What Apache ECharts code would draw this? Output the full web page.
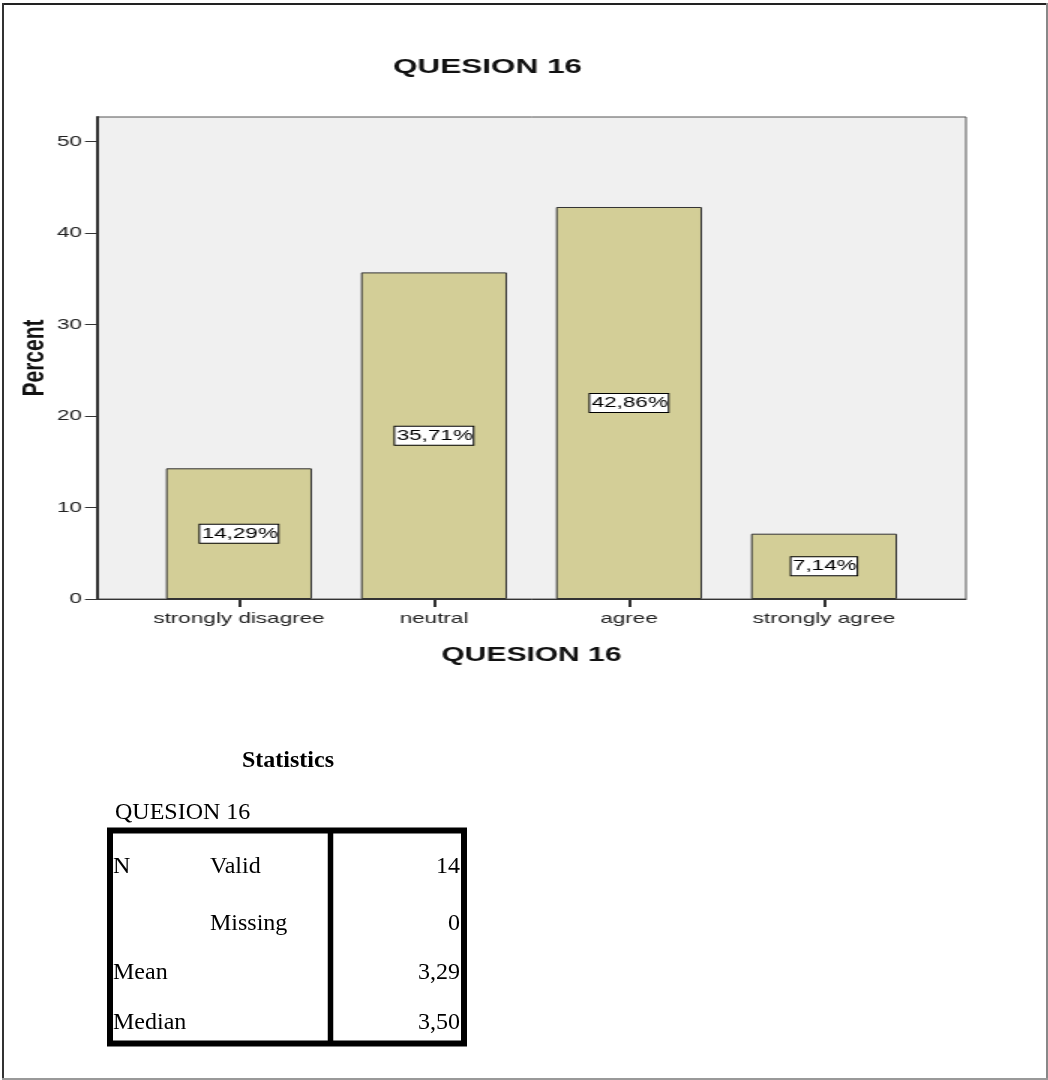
<!DOCTYPE html>
<html><head><meta charset="utf-8">
<script src="https://cdn.jsdelivr.net/npm/echarts@6/dist/echarts.min.js"></script>
<style>
html,body{margin:0;padding:0;background:#fff;}
#page{position:relative;width:1048px;height:1080px;overflow:hidden;background:#fff;}
#base{position:absolute;left:0;top:0;width:1048px;height:1080px;}
#chart{position:absolute;left:0;top:0;width:700px;height:700px;transform:scaleX(1.5);transform-origin:0 0;}
</style></head>
<body><div id="page"><div id="base"></div><div id="chart"></div></div>
<script>
// ---- data ----
const categories = ['strongly disagree', 'neutral', 'agree', 'strongly agree'];
const percents = [14.29, 35.71, 42.86, 7.14];
const percentLabels = ['14,29%', '35,71%', '42,86%', '7,14%'];
const yTicks = [0, 10, 20, 30, 40, 50];
const chartTitle = 'QUESION 16';
const xAxisTitle = 'QUESION 16';
const yAxisTitle = 'Percent';
const statsTitle = 'Statistics';
const statsVariable = 'QUESION 16';
const statGroup = ['N', '', 'Mean', 'Median'];
const statSub = ['Valid', 'Missing', '', ''];
const statValue = ['14', '0', '3,29', '3,50'];

const SANS = '"Liberation Sans", Arial, Helvetica, sans-serif';
const SERIF = '"Liberation Serif", "Times New Roman", serif';
const catIdx = categories.map((c, i) => i);

// ---- chart (stretched horizontally like the original export) ----
const chart = echarts.init(document.getElementById('chart'), null, {renderer: 'canvas'});
chart.setOption({
  animation: false,
  backgroundColor: 'transparent',
  title: {
    text: chartTitle, left: 320, top: 52, textAlign: 'center',
    textStyle: {fontFamily: SANS, fontSize: 21, fontWeight: 'bold', color: '#111'}
  },
  grid: {
    left: 64.67, right: 56, top: 117, bottom: 101,
    containLabel: false, outerBoundsMode: 'none',
    show: true, backgroundColor: '#f0f0f0', borderColor: '#555', borderWidth: 1
  },
  xAxis: {
    type: 'value', min: -0.728, max: 3.728,
    name: xAxisTitle, nameLocation: 'middle', nameGap: 46, nameMoveOverlap: false,
    nameTextStyle: {fontFamily: SANS, fontSize: 20, fontWeight: 'bold', color: '#111'},
    axisLine: {show: true, onZero: false, lineStyle: {color: '#333', width: 1}},
    axisTick: {show: true, customValues: catIdx, length: 8, lineStyle: {color: '#333', width: 2}},
    axisLabel: {customValues: catIdx, formatter: v => categories[Math.round(v)] || '',
      fontFamily: SANS, fontSize: 15, color: '#222', margin: 12},
    splitLine: {show: false}
  },
  yAxis: {
    type: 'value', min: 0, max: 52.7,
    name: yAxisTitle, nameLocation: 'middle', nameGap: 31, nameRotate: 90, nameMoveOverlap: false,
    nameTextStyle: {fontFamily: SANS, fontSize: 21, fontWeight: 'bold', color: '#111'},
    axisLine: {show: true, onZero: false, lineStyle: {color: '#333', width: 2}},
    axisTick: {show: true, customValues: yTicks, length: 8, lineStyle: {color: '#333', width: 1}},
    axisLabel: {customValues: yTicks, fontFamily: SANS, fontSize: 15, color: '#222', margin: 10},
    splitLine: {show: false}
  },
  series: [{
    type: 'bar',
    data: percents.map((v, i) => [i, v]),
    barWidth: 97.3,
    itemStyle: {color: '#d3ce97', borderColor: '#333', borderWidth: 1},
    label: {
      show: true, position: 'inside',
      formatter: p => percentLabels[p.dataIndex],
      fontFamily: SANS, fontSize: 15, color: '#000',
      backgroundColor: '#fff', borderColor: '#000', borderWidth: 1,
      padding: [2, 0, 1, 1]
    }
  }]
});

// ---- base layer: frame + statistics table ----
const base = echarts.init(document.getElementById('base'), null, {renderer: 'canvas'});
const g = [];
// outer frame
g.push({type: 'line', shape: {x1: 2, y1: 4, x2: 1048, y2: 4}, style: {stroke: '#222', lineWidth: 2}});
g.push({type: 'line', shape: {x1: 3, y1: 3, x2: 3, y2: 1080}, style: {stroke: '#333', lineWidth: 2}});
g.push({type: 'line', shape: {x1: 1047, y1: 3, x2: 1047, y2: 1080}, style: {stroke: '#888', lineWidth: 2}});
g.push({type: 'line', shape: {x1: 2, y1: 1079, x2: 1048, y2: 1079}, style: {stroke: '#999', lineWidth: 2}});

const tTop = 830.5, tBottom = 1043.5, tLeft = 110, tRight = 464, tDiv = 330.5;
g.push({type: 'text', style: {text: statsTitle, x: 288, y: 761, align: 'center', verticalAlign: 'middle',
  font: 'bold 24px ' + SERIF, fill: '#000'}});
g.push({type: 'text', style: {text: statsVariable, x: 115, y: 813, align: 'left', verticalAlign: 'middle',
  font: '24px ' + SERIF, fill: '#000'}});
g.push({type: 'rect', shape: {x: tLeft, y: tTop, width: tRight - tLeft, height: tBottom - tTop},
  style: {fill: 'none', stroke: '#000', lineWidth: 6}});
g.push({type: 'line', shape: {x1: tDiv, y1: tTop, x2: tDiv, y2: tBottom}, style: {stroke: '#000', lineWidth: 5.5}});
const rowY = [867, 924, 973, 1023];
rowY.forEach((y, i) => {
  if (statGroup[i]) g.push({type: 'text', style: {text: statGroup[i], x: 113, y: y, align: 'left', verticalAlign: 'middle', font: '24px ' + SERIF, fill: '#000'}});
  if (statSub[i]) g.push({type: 'text', style: {text: statSub[i], x: 210, y: y, align: 'left', verticalAlign: 'middle', font: '24px ' + SERIF, fill: '#000'}});
  g.push({type: 'text', style: {text: statValue[i], x: 460, y: y, align: 'right', verticalAlign: 'middle', font: '24px ' + SERIF, fill: '#000'}});
});
base.setOption({animation: false, graphic: {elements: g}});
</script>
</body></html>
